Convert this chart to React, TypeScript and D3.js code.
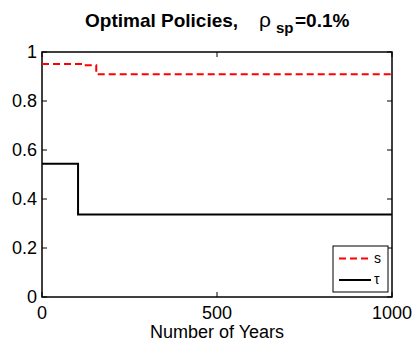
import React, { useEffect, useRef } from 'react';
import * as d3 from 'd3';

// step-wise optimal policy values (year, value)
const sYears = [0, 120, 155, 1000];
const sValues = [0.951, 0.946, 0.909, 0.909];
const tauYears = [0, 103, 1000];
const tauValues = [0.544, 0.337, 0.337];

const xTicks = [0, 500, 1000];
const yTicks = [0, 0.2, 0.4, 0.6, 0.8, 1];

const App: React.FC = () => {
	const ref = useRef<SVGSVGElement>(null);

	const W = 414;
	const H = 341;
	const margin = { top: 52, right: 22, bottom: 44, left: 42 };
	const width = W - margin.left - margin.right;
	const height = H - margin.top - margin.bottom;

	useEffect(() => {
		if (!ref.current) return;
		const svg = d3.select(ref.current);
		svg.selectAll('*').remove();
		const font = 'Liberation Sans, Arial, sans-serif';

		const x = d3.scaleLinear().domain([0, 1000]).range([0, width]);
		const y = d3.scaleLinear().domain([0, 1]).range([height, 0]);

		svg.append('rect').attr('width', W).attr('height', H).attr('fill', 'white');

		const g = svg
			.append('g')
			.attr('transform', `translate(${margin.left},${margin.top})`);

		// frame
		g.append('rect')
			.attr('width', width)
			.attr('height', height)
			.attr('fill', 'white')
			.attr('stroke', 'black')
			.attr('stroke-width', 1.5);

		// ticks (inward, matlab style) on all sides
		const tl = 5;
		xTicks.forEach((t) => {
			g.append('line').attr('x1', x(t)).attr('x2', x(t)).attr('y1', height).attr('y2', height - tl).attr('stroke', 'black');
			g.append('line').attr('x1', x(t)).attr('x2', x(t)).attr('y1', 0).attr('y2', tl).attr('stroke', 'black');
			g.append('text')
				.attr('x', x(t))
				.attr('y', height + 22)
				.attr('text-anchor', 'middle')
				.attr('font-family', font)
				.attr('font-size', 18)
				.text(t);
		});
		yTicks.forEach((t) => {
			g.append('line').attr('x1', 0).attr('x2', tl).attr('y1', y(t)).attr('y2', y(t)).attr('stroke', 'black');
			g.append('line').attr('x1', width).attr('x2', width - tl).attr('y1', y(t)).attr('y2', y(t)).attr('stroke', 'black');
			g.append('text')
				.attr('x', -5)
				.attr('y', y(t))
				.attr('dy', '0.35em')
				.attr('text-anchor', 'end')
				.attr('font-family', font)
				.attr('font-size', 18)
				.text(t);
		});

		const line = d3
			.line<[number, number]>()
			.x((d) => x(d[0]))
			.y((d) => y(d[1]))
			.curve(d3.curveStepAfter);

		const sPts = sYears.map((v, i) => [v, sValues[i]] as [number, number]);
		const tauPts = tauYears.map((v, i) => [v, tauValues[i]] as [number, number]);

		g.append('path')
			.attr('d', line(sPts))
			.attr('fill', 'none')
			.attr('stroke', '#ff0000')
			.attr('stroke-width', 2)
			.attr('stroke-dasharray', '7,4');

		g.append('path')
			.attr('d', line(tauPts))
			.attr('fill', 'none')
			.attr('stroke', 'black')
			.attr('stroke-width', 2);

		// legend
		const lg = g.append('g').attr('transform', `translate(${width - 59},${height - 51})`);
		lg.append('rect')
			.attr('width', 55)
			.attr('height', 46)
			.attr('fill', 'white')
			.attr('stroke', 'black')
			.attr('stroke-width', 1);
		lg.append('line').attr('x1', 6).attr('x2', 38).attr('y1', 12.5).attr('y2', 12.5)
			.attr('stroke', '#ff0000').attr('stroke-width', 2).attr('stroke-dasharray', '7,4');
		lg.append('text').attr('x', 41).attr('y', 17).attr('font-family', font).attr('font-size', 14).text('s');
		lg.append('line').attr('x1', 6).attr('x2', 38).attr('y1', 34).attr('y2', 34)
			.attr('stroke', 'black').attr('stroke-width', 2);
		lg.append('text').attr('x', 41).attr('y', 38).attr('font-family', font).attr('font-size', 14).text('τ');

		// x label
		svg.append('text')
			.attr('x', margin.left + width / 2)
			.attr('y', 338)
			.attr('text-anchor', 'middle')
			.attr('font-family', font)
			.attr('font-size', 18)
			.text('Number of Years');

		// title
		const title = svg.append('text')
			.attr('font-family', font)
			.attr('font-size', 19)
			.attr('font-weight', 'bold');
		title.append('tspan').attr('x', 85).attr('y', 27).text('Optimal Policies,');
		title.append('tspan').attr('x', 259).attr('y', 27).attr('font-weight', 'normal').attr('font-size', 21).text('ρ');
		title.append('tspan').attr('x', 276).attr('y', 33).attr('font-size', 15).text('sp');
		title.append('tspan').attr('x', 295).attr('y', 27).text('=0.1%');
	}, []);

	return (
		<svg
			ref={ref}
			width={W}
			height={H}
			style={{ position: 'absolute', left: 0, top: 0, display: 'block' }}
		/>
	);
};

export default App;
